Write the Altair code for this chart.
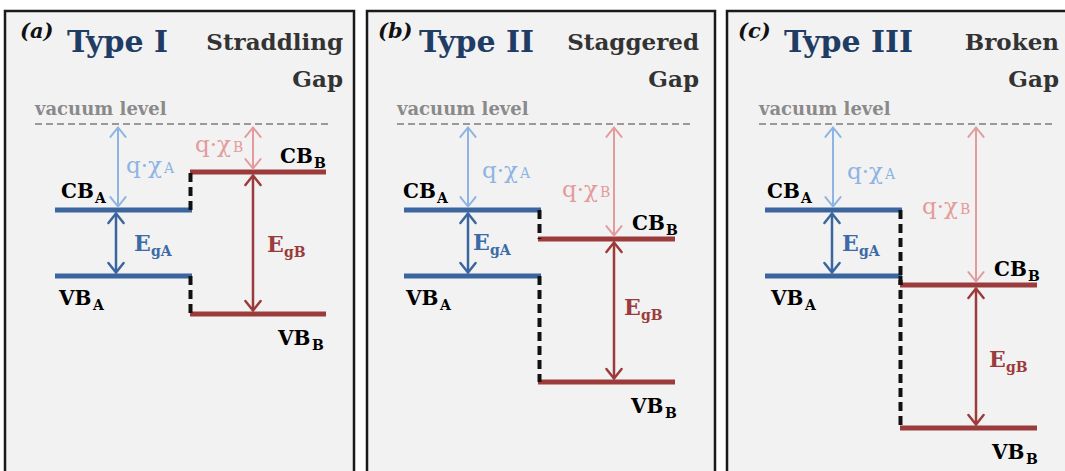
import altair as alt
import pandas as pd

# ---------------- data (band alignment, eV-like units) ----------------
panel_tags = ["(a)", "(b)", "(c)"]
type_names = ["Type I", "Type II", "Type III"]
gap_names = ["Straddling", "Staggered", "Broken"]
gap_word = ["Gap", "Gap", "Gap"]
chi_A = [2.15, 2.15, 2.15]      # vacuum -> CB_A
Eg_A = [1.65, 1.65, 1.65]       # CB_A -> VB_A
chi_B = [1.20, 2.875, 4.025]    # vacuum -> CB_B
Eg_B = [3.55, 3.575, 3.575]     # CB_B -> VB_B

# ---------------- layout (page pixels) ----------------
W, H = 1065, 471
VAC_PX = 124
PX_PER_EV = 40.0
frame_left = [5, 367, 727]
frame_right = [354, 715, 1090]
a_x0 = [55, 404, 765]
a_x1 = [192, 541, 902]
b_x0 = [190, 538, 900]
b_x1 = [326, 675, 1037]
chiA_x = [118, 468, 833]
chiB_x = [253, 614, 976]
EgA_x = [116, 468, 832]
EgB_x = [253, 614, 976]
tag_x = [20, 378, 738]
type_x = [67, 419, 784]
gap_right = [343, 699, 1059]
vac_x0 = [35, 397, 759]
vac_x1 = [330, 690, 1053]
cbA_lx = [61, 403, 767]
vbA_lx = [59, 406, 771]
cbB_lx = [280, 632, 994]
vbB_lx = [278, 631, 992]
chiA_lx = [126, 482, 847]
chiA_ly = [173, 178, 179]
chiB_lx = [195, 562, 922]
chiB_ly = [152, 197, 214]
EgA_lx = [134, 473, 842]
EgA_ly = [251, 250, 251]
EgB_lx = [267, 624, 989]
EgB_ly = [252, 315, 367]

FONT = "DejaVu Serif"
BLUE = "#3b659f"
RED = "#9c3b3b"
LBLUE = "#8db4e2"
PINK = "#e49b9b"
NAVY = "#1f3c64"


def E(px):
    return (VAC_PX - px) / PX_PER_EV


def P(e):
    return VAC_PX - e * PX_PER_EV


XS = alt.Scale(domain=[0, W], nice=False, zero=False)
YS = alt.Scale(domain=[E(H), E(0)], nice=False, zero=False)
X = lambda f="x": alt.X(f"{f}:Q", scale=XS, axis=None)
Y = lambda f="E": alt.Y(f"{f}:Q", scale=YS, axis=None)

# ---------------- build tables ----------------
frames, vac, levels, junc, shafts, heads, texts = [], [], [], [], [], [], []
for i in range(3):
    cbA, vbA = -chi_A[i], -(chi_A[i] + Eg_A[i])
    cbB, vbB = -chi_B[i], -(chi_B[i] + Eg_B[i])
    frames.append(dict(x=frame_left[i], x2=frame_right[i], E=E(11), E2=E(520)))
    vac.append(dict(x=vac_x0[i], x2=vac_x1[i], E=0.0))
    levels += [
        dict(x=a_x0[i], x2=a_x1[i], E=cbA, color=BLUE),
        dict(x=a_x0[i], x2=a_x1[i], E=vbA, color=BLUE),
        dict(x=b_x0[i], x2=b_x1[i], E=cbB, color=RED),
        dict(x=b_x0[i], x2=b_x1[i], E=vbB, color=RED),
    ]
    jx = a_x1[i] - 1.5
    junc += [dict(x=jx, E=cbA, E2=cbB), dict(x=jx, E=vbA, E2=vbB)]
    g = 3.5 / PX_PER_EV
    arrows = [
        (chiA_x[i], 0.0, cbA, LBLUE, 2.0),
        (chiB_x[i], 0.0, cbB, PINK, 2.0),
        (EgA_x[i], cbA, vbA, BLUE, 2.5),
        (EgB_x[i], cbB, vbB, RED, 2.5),
    ]
    for (ax, top, bot, col, sw) in arrows:
        shafts.append(dict(x=ax, E=top - g, E2=bot + g, color=col, sw=sw))
        heads.append(dict(x=ax, E=top - g, color=col, sw=sw, dir="up"))
        heads.append(dict(x=ax, E=bot + g, color=col, sw=sw, dir="down"))

    # headers
    texts.append(dict(g="tag", x=tag_x[i], E=E(38), text=panel_tags[i], size=21, color="#111111"))
    texts.append(dict(g="bold", x=type_x[i], E=E(52), text=type_names[i], size=30, color=NAVY))
    texts.append(dict(g="right", x=gap_right[i], E=E(50), text=gap_names[i], size=23, color="#333333"))
    texts.append(dict(g="right", x=gap_right[i], E=E(87), text=gap_word[i], size=23, color="#333333"))
    texts.append(dict(g="bold", x=vac_x0[i], E=E(115), text="vacuum level", size=18, color="#8a8a8a"))

    # band labels with subscripts
    def band(lx, base_px, main, sub):
        texts.append(dict(g="bold", x=lx, E=E(base_px), text=main, size=20, color="#000000"))
        texts.append(dict(g="bold", x=lx + 34, E=E(base_px + 5), text=sub, size=14, color="#000000"))

    band(cbA_lx[i], P(cbA) - 12, "CB", "A")
    band(vbA_lx[i], P(vbA) + 29, "VB", "A")
    band(cbB_lx[i], P(cbB) - 9, "CB", "B")
    band(vbB_lx[i], P(vbB) + 31, "VB", "B")

    # q·chi labels
    for (lx, ly, sub, col) in [(chiA_lx[i], chiA_ly[i], "A", LBLUE), (chiB_lx[i], chiB_ly[i], "B", PINK)]:
        texts.append(dict(g="reg", x=lx, E=E(ly), text="q·χ", size=23, color=col))
        texts.append(dict(g="reg", x=lx + 38, E=E(ly), text=sub, size=14, color=col))

    # Eg labels
    for (lx, ly, sub, col) in [(EgA_lx[i], EgA_ly[i], "gA", "#3b6aa6"), (EgB_lx[i], EgB_ly[i], "gB", RED)]:
        texts.append(dict(g="bold", x=lx, E=E(ly), text="E", size=22, color=col))
        texts.append(dict(g="bold", x=lx + 17, E=E(ly + 5), text=sub, size=14, color=col))

frames = pd.DataFrame(frames)
vac = pd.DataFrame(vac)
levels = pd.DataFrame(levels)
junc = pd.DataFrame(junc)
shafts = pd.DataFrame(shafts)
heads = pd.DataFrame(heads)
texts = pd.DataFrame(texts)

# ---------------- layers ----------------
frame_layer = alt.Chart(frames).mark_rect(
    fill="#f2f2f2", stroke="#1a1a1a", strokeWidth=2.5, clip=True
).encode(x=X(), x2="x2:Q", y=Y(), y2="E2:Q")

vac_layer = alt.Chart(vac).mark_rule(
    color="#999999", strokeWidth=2, strokeDash=[7, 4]
).encode(x=X(), x2="x2:Q", y=Y())

level_layer = alt.Chart(levels).mark_rule(strokeWidth=5, strokeCap="butt").encode(
    x=X(), x2="x2:Q", y=Y(), color=alt.Color("color:N", scale=None)
)

junc_layer = alt.Chart(junc).mark_rule(
    color="#111111", strokeWidth=4, strokeDash=[9, 5]
).encode(x=X(), y=Y(), y2="E2:Q")

shaft_layer = alt.Chart(shafts).mark_rule().encode(
    x=X(), y=Y(), y2="E2:Q",
    color=alt.Color("color:N", scale=None),
    strokeWidth=alt.StrokeWidth("sw:Q", scale=None),
)

UP = "M-0.6,0.75L0,0L0.6,0.75"
DOWN = "M-0.6,-0.75L0,0L0.6,-0.75"


def head_layer(d, shape):
    return alt.Chart(heads[heads["dir"] == d]).mark_point(
        shape=shape, filled=False, size=640, strokeCap="round", strokeJoin="miter", opacity=1
    ).encode(
        x=X(), y=Y(),
        color=alt.Color("color:N", scale=None),
        strokeWidth=alt.StrokeWidth("sw:Q", scale=None),
    )


def text_layer(group, weight="bold", style="normal", align="left"):
    return alt.Chart(texts[texts["g"] == group]).mark_text(
        font=FONT, fontWeight=weight, fontStyle=style, align=align, baseline="alphabetic"
    ).encode(
        x=X(), y=Y(), text="text:N",
        size=alt.Size("size:Q", scale=None),
        color=alt.Color("color:N", scale=None),
    )


chart = alt.layer(
    frame_layer,
    vac_layer,
    level_layer,
    junc_layer,
    shaft_layer,
    head_layer("up", UP),
    head_layer("down", DOWN),
    text_layer("tag", style="italic"),
    text_layer("bold"),
    text_layer("right", align="right"),
    text_layer("reg", weight="normal"),
).properties(
    width=W, height=H, padding=0, autosize=alt.AutoSizeParams(type="none"), background="white"
).configure_view(stroke=None)

chart.save("out.html", embed_options={"renderer": "svg", "actions": False})
